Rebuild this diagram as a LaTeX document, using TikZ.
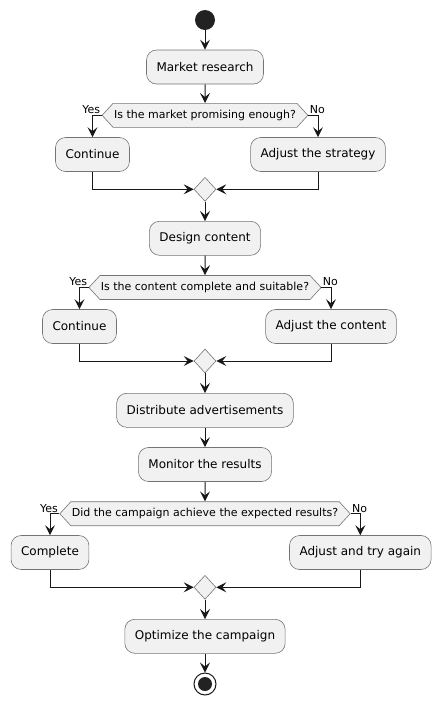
\documentclass[tikz,border=0pt]{standalone}
\usepackage{fontspec}
\setmainfont{DejaVu Sans}
\usetikzlibrary{arrows.meta,shapes.geometric,shapes.symbols}

\definecolor{boxfill}{HTML}{F1F1F1}
\definecolor{ink}{HTML}{181818}
\definecolor{dot}{HTML}{222222}

\tikzset{
  act/.style={rectangle, rounded corners=10pt, draw=ink!60, line width=0.6pt, fill=boxfill,
    minimum height=34pt, inner xsep=10pt, font=\fontsize{12}{14}\selectfont},
  ask/.style={signal, signal to=west and east, signal pointer angle=95, draw=ink!60,
    line width=0.6pt, fill=boxfill, minimum height=24pt, inner xsep=1pt, inner ysep=0pt,
    font=\fontsize{11}{13}\selectfont},
  merge/.style={diamond, draw=ink!60, line width=0.6pt, fill=boxfill, inner sep=0pt,
    minimum width=22pt, minimum height=24pt},
  flow/.style={draw=ink, line width=1pt, -{Stealth[length=10pt,width=10pt,inset=4pt]}},
  tag/.style={font=\fontsize{11}{13}\selectfont, inner sep=1pt}
}

\begin{document}
\begin{tikzpicture}[x=1pt,y=-1pt]
      \useasboundingbox (0,0) rectangle (441,705);
      \draw
      (205,20)    node[circle, fill=dot, minimum size=20pt, inner sep=0pt](start){}
      (205,67)    node[act](market){Market research}
      (205,115.3) node[ask](ask1){Is the market promising enough?}
      (92.5,154.5) node[act](go1){Continue}
      (318,154.5) node[act](fix1){Adjust the strategy}
      (205,189.3) node[merge](join1){}
      (205,238.3) node[act](design){Design content}
      (205,287.5) node[ask](ask2){Is the content complete and suitable?}
      (79.5,326.5) node[act](go2){Continue}
      (331,326.5) node[act](fix2){Adjust the content}
      (205,361)   node[merge](join2){}
      (205,410.3) node[act](spread){Distribute advertisements}
      (205,464.5) node[act](watch){Monitor the results}
      (205,513.7) node[ask](ask3){Did the campaign achieve the expected results?}
      (50,552.5)  node[act](go3){Complete}
      (360.3,552.5) node[act](fix3){Adjust and try again}
      (205,587.3) node[merge](join3){}
      (205,636.3) node[act](tune){Optimize the campaign}
      (205,684)   node[circle, draw=ink, line width=1pt, minimum size=22pt, inner sep=0pt](stop){};
      \fill[dot] (stop) circle (7pt);

      \draw[flow] (start) -- (market);
      \draw[flow] (market) -- (ask1);
      \draw[flow] (ask1.west) -| node[tag, pos=0, above left]{Yes} (go1);
      \draw[flow] (ask1.east) -| node[tag, pos=0, above right]{No} (fix1);
      \draw[flow] (go1) |- (join1);
      \draw[flow] (fix1) |- (join1);
      \draw[flow] (join1) -- (design);
      \draw[flow] (design) -- (ask2);
      \draw[flow] (ask2.west) -| node[tag, pos=0, above left]{Yes} (go2);
      \draw[flow] (ask2.east) -| node[tag, pos=0, above right]{No} (fix2);
      \draw[flow] (go2) |- (join2);
      \draw[flow] (fix2) |- (join2);
      \draw[flow] (join2) -- (spread);
      \draw[flow] (spread) -- (watch);
      \draw[flow] (watch) -- (ask3);
      \draw[flow] (ask3.west) -| node[tag, pos=0, above left]{Yes} (go3);
      \draw[flow] (ask3.east) -| node[tag, pos=0, above right]{No} (fix3);
      \draw[flow] (go3) |- (join3);
      \draw[flow] (fix3) |- (join3);
      \draw[flow] (join3) -- (tune);
      \draw[flow] (tune) -- (stop);
    \end{tikzpicture}
\end{document}
